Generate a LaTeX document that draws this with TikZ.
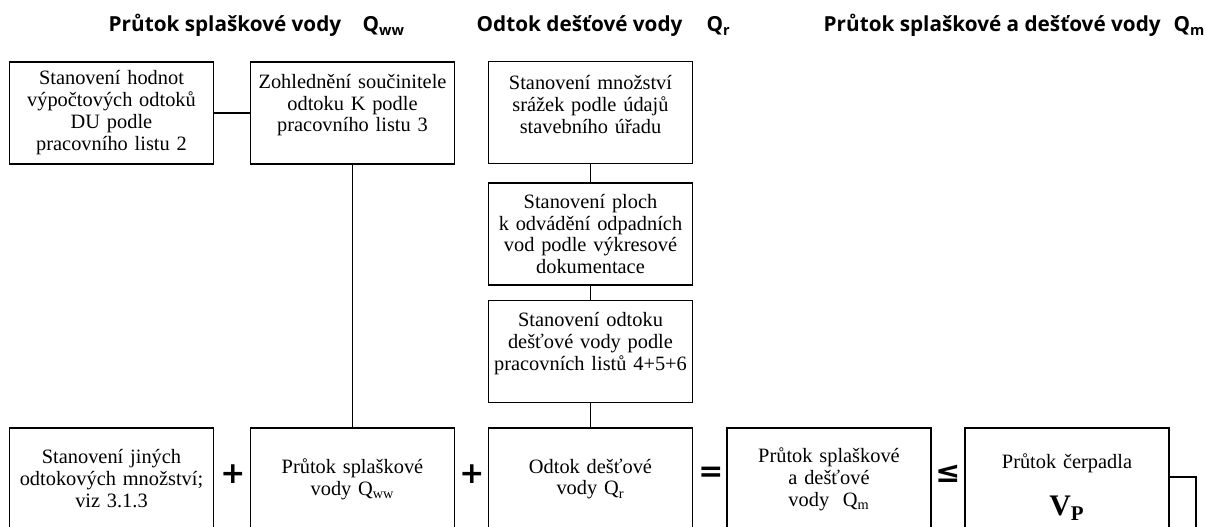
\documentclass[tikz,border=0pt]{standalone}
\usepackage{fontspec}
\setmainfont{Liberation Serif}
\newfontfamily\headfont{Open Sans}
\newfontfamily\opfont{DejaVu Sans}
\newcommand{\lift}{\par\vspace{9pt}\hrule height 0pt width 0pt}

\begin{document}
\begin{tikzpicture}[x=0.02cm,y=-0.02cm,line width=0.8pt,
  box/.style={draw,align=center,text width=4.08cm,minimum width=4.08cm,
    minimum height=2.04cm,inner xsep=0pt,inner ysep=2pt,font=\fontsize{11.6}{12.5}\selectfont},
  head/.style={anchor=base west,inner sep=0pt,font=\headfont\bfseries\fontsize{11.8}{14}\selectfont},
  op/.style={font=\opfont\bfseries\fontsize{17}{20}\selectfont}]
  \useasboundingbox (0,0) rectangle (1205,527);
  \clip (0,0) rectangle (1205,527);

  \node[head] (h1) at (108,32) {Průtok splaškové vody};
  \node[head] (q1) at (362,32) {Q\textsubscript{ww}};
  \node[head] (h2) at (476,32) {Odtok dešťové vody};
  \node[head] (q2) at (706,32) {Q\textsubscript{r}};
  \node[head] (h3) at (823,32) {Průtok splaškové a dešťové vody};
  \node[head] (q3) at (1173,32) {Q\textsubscript{m}};

  \node[box] (stan) at (111.5,113) {Stanovení hodnot\\výpočtových odtoků\\DU podle\\pracovního listu 2};
  \node[box] (zohl) at (352.5,113) {Zohlednění součinitele\\odtoku K podle\\pracovního listu 3\lift};
  \node[box] (srazky) at (590.5,112.5) {Stanovení množství\\srážek podle údajů\\stavebního úřadu\lift};
  \node[box] (plochy) at (590.5,234) {Stanovení ploch\\k odvádění odpadních\\vod podle výkresové\\dokumentace};
  \node[box] (dest) at (590.5,351.5) {Stanovení odtoku\\dešťové vody podle\\pracovních listů 4+5+6\lift};

  \node[box] (jine) at (111.5,479) {Stanovení jiných\\odtokových množství;\\viz 3.1.3};
  \node[box] (qww) at (352.5,479) {Průtok splaškové\\vody Q\textsubscript{ww}};
  \node[box] (qr) at (590.5,479) {Odtok dešťové\\vody Q\textsubscript{r}};
  \node[box] (qm) at (829,479) {Průtok splaškové\\a dešťové\\vody~~Q\textsubscript{m}};
  \node[box,minimum height=2.36cm] (vp) at (1067,487) {Průtok čerpadla\\[12pt]{\fontsize{17}{19}\selectfont\bfseries V\textsubscript{P}}};

  \node[op] (plus1) at (233,474) {+};
  \node[op] (plus2) at (472,474) {+};
  \node[op] (eq) at (711,474) {=};
  \node[op] (le) at (948,474) {≤};

  \draw (stan) -- (zohl);
  \draw (zohl) -- (qww);
  \draw (srazky) -- (plochy);
  \draw (plochy) -- (dest);
  \draw (dest) -- (qr);
  \coordinate (dal) at (1196,540);
  \draw ([yshift=0.2cm]vp.east) -| (dal);
\end{tikzpicture}
\end{document}
